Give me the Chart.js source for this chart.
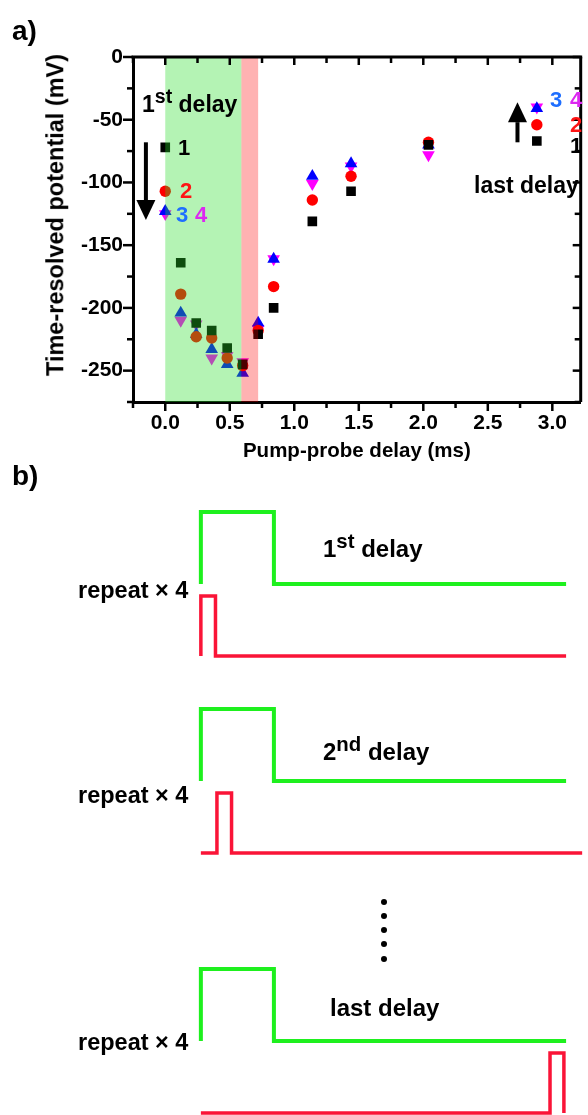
<!DOCTYPE html>
<html>
<head>
<meta charset="utf-8">
<script src="https://cdn.jsdelivr.net/npm/chart.js@4.4.1/dist/chart.umd.min.js"></script>
<style>
  html, body { margin: 0; padding: 0; background: #fff; }
  body { position: relative; width: 588px; height: 1115px; overflow: hidden;
         font-family: "Liberation Sans", Arial, sans-serif; font-weight: bold; color: #000; }
  canvas { position: absolute; left: 0; }
  .t { position: absolute; line-height: 1; white-space: nowrap; transform: translateY(-50%); }
  .t sup { font-size: 0.85em; line-height: 0; vertical-align: 0.42em; }
  .dot { position: absolute; width: 6px; height: 6px; border-radius: 50%; background: #000; left: 381px; }
  #ytitle { position: absolute; left: 56px; top: 215px; font-size: 23.5px; line-height: 1; white-space: nowrap;
            transform: translate(-50%, -50%) rotate(-90deg); }
</style>
</head>
<body>
<canvas id="delayChart" width="588" height="470" style="top:0"></canvas>
<canvas id="pulse1" width="588" height="156" style="top:506px"></canvas>
<canvas id="pulse2" width="588" height="156" style="top:703px"></canvas>
<canvas id="pulse3" width="588" height="156" style="top:963px"></canvas>

<!-- panel a texts -->
<div class="t" style="left:12px;top:31px;font-size:28px">a)</div>
<div id="ytitle">Time-resolved potential (mV)</div>
<div class="t" style="left:142px;top:104px;font-size:23px">1<sup>st</sup> delay</div>
<div class="t" style="left:178px;top:148px;font-size:22px">1</div>
<div class="t" style="left:180px;top:191px;font-size:22px;color:#ff1414">2</div>
<div class="t" style="left:176px;top:215px;font-size:22px;color:#1e6eff">3</div>
<div class="t" style="left:195px;top:215px;font-size:22px;color:#dc28f0">4</div>
<div class="t" style="left:550px;top:100px;font-size:22px;color:#1e6eff">3</div>
<div class="t" style="left:570px;top:100px;font-size:22px;color:#dc28f0">4</div>
<div class="t" style="left:570px;top:125px;font-size:22px;color:#ff1414">2</div>
<div class="t" style="left:570px;top:146px;font-size:22px">1</div>
<div class="t" style="left:474px;top:185px;font-size:23px">last delay</div>

<!-- panel b texts -->
<div class="t" style="left:12px;top:476px;font-size:28px">b)</div>
<div class="t" style="left:78px;top:591px;font-size:23.5px">repeat × 4</div>
<div class="t" style="left:78px;top:796px;font-size:23.5px">repeat × 4</div>
<div class="t" style="left:78px;top:1043px;font-size:23.5px">repeat × 4</div>
<div class="t" style="left:323px;top:549px;font-size:24px">1<sup>st</sup> delay</div>
<div class="t" style="left:323px;top:752px;font-size:24px">2<sup>nd</sup> delay</div>
<div class="t" style="left:330px;top:1008px;font-size:24px">last delay</div>
<div class="dot" style="top:899px"></div>
<div class="dot" style="top:913px"></div>
<div class="dot" style="top:927px"></div>
<div class="dot" style="top:941px"></div>
<div class="dot" style="top:956px"></div>

<script>
// pump-probe delays (ms) and potentials (mV) for the four repeats
const delayMs = [0, 0.12, 0.24, 0.36, 0.48, 0.60, 0.72, 0.84, 1.14, 1.44, 2.04, 2.88];
const run1 = [-72, -164, -212, -218, -232, -245, -221, -200, -131, -107, -70, -67];
const run2 = [-107, -189, -223, -224, -240, -246, -218, -183, -114, -95, -68, -54];
const run3 = [-123, -204, -221, -233, -245, -252, -212, -161, -95, -85, -70, -41];
const run4 = [-125, -210, -213, -240, -238, -243, -217, -161, -101, -87, -78, -40];

// shaded windows (ms)
const pumpWindow = [0, 0.59];
const probeWindow = [0.59, 0.72];

// arrows in data units: x, start, end (mV)
const arrows = [
    {x: -0.15, from: -68, to: -130},
    {x: 2.73, from: -68, to: -36}
];

// timing diagram: time in pump widths, level in arbitrary units
const pumpTime = [0, 0, 1, 1, 5];
const pumpLevel = [1.2, 2.4, 2.4, 1.2, 1.2];
const probe1Time = [0, 0, 0.2, 0.2, 5];
const probe1Level = [0, 1, 1, 0, 0];
const probe2Time = [0, 0.22, 0.22, 0.42, 0.42, 5.22];
const probe2Level = [0, 0, 1, 1, 0, 0];
const probeLastTime = [0, 4.78, 4.78, 4.97, 4.97];
const probeLastLevel = [0, 0, 1, 1, 0];

const fontFamily = '"Liberation Sans", Arial, sans-serif';

function toXY(xs, ys) {
    return xs.map((v, i) => ({x: v, y: ys[i]}));
}

function line(ctx, x0, y0, x1, y1) {
    ctx.beginPath();
    ctx.moveTo(x0, y0);
    ctx.lineTo(x1, y1);
    ctx.stroke();
}

//Bands over the points, frame, minor ticks and arrows
const framePlugin = {
    id: 'framePlugin',
    afterDatasetsDraw(chart) {
        const {ctx, chartArea: a, scales: {x}} = chart;
        ctx.save();
        [[pumpWindow, 'rgba(40, 220, 40, 0.35)'], [probeWindow, 'rgba(255, 0, 0, 0.3)']].forEach(function(b) {
            const x0 = x.getPixelForValue(b[0][0]);
            const x1 = x.getPixelForValue(b[0][1]);
            ctx.fillStyle = b[1];
            ctx.fillRect(x0, a.top, x1 - x0, a.bottom - a.top);
        });
        ctx.restore();
    },
    afterDraw(chart) {
        const {ctx, chartArea: a, scales: {x, y}} = chart;
        ctx.save();
        ctx.strokeStyle = '#000';
        ctx.lineWidth = 3;
        line(ctx, a.left - 1.5, a.top, a.right + 1.5, a.top);
        line(ctx, a.right, a.top, a.right, a.bottom);

        ctx.lineWidth = 2.5;
        for (let i = 0; ; i++) {
            const v = -0.25 + i * 0.25;
            if (v > x.max + 1e-9) break;
            const px = x.getPixelForValue(v);
            const major = i % 2 === 1;
            line(ctx, px, a.bottom, px, a.bottom + (major ? 9 : 6));
            line(ctx, px, a.top, px, a.top + (major ? 8 : 6));
        }
        for (let i = 0; ; i++) {
            const v = -25 * i;
            if (v < y.min - 1e-9) break;
            const py = y.getPixelForValue(v);
            const major = i % 2 === 0;
            line(ctx, a.left - (major ? 10 : 6), py, a.left, py);
            line(ctx, a.right - (major ? 8 : 6), py, a.right, py);
        }

        ctx.fillStyle = '#000';
        arrows.forEach(function(ar) {
            const px = x.getPixelForValue(ar.x);
            const p0 = y.getPixelForValue(ar.from);
            const p1 = y.getPixelForValue(ar.to);
            const dir = Math.sign(p1 - p0);
            const headLen = 20;
            ctx.lineWidth = 4;
            line(ctx, px, p0, px, p1 - dir * headLen);
            ctx.beginPath();
            ctx.moveTo(px - 9.5, p1 - dir * headLen);
            ctx.lineTo(px + 9.5, p1 - dir * headLen);
            ctx.lineTo(px, p1);
            ctx.closePath();
            ctx.fill();
        });
        ctx.restore();
    }
};

const delayChart = new Chart(
    document.getElementById('delayChart'),
    {
        type: 'scatter',
        data: {
            datasets: [{
                label: '1',
                data: toXY(delayMs, run1),
                pointStyle: 'rect',
                pointRadius: 6.8,
                backgroundColor: '#000000',
            }, {
                label: '2',
                data: toXY(delayMs, run2),
                pointStyle: 'circle',
                pointRadius: 5.7,
                backgroundColor: '#ff0000',
            }, {
                label: '3',
                data: toXY(delayMs, run3),
                pointStyle: 'triangle',
                pointRadius: 7.3,
                backgroundColor: '#0000ff',
            }, {
                label: '4',
                data: toXY(delayMs, run4),
                pointStyle: 'triangle',
                rotation: 180,
                pointRadius: 7.3,
                backgroundColor: '#ff00ff',
            }]
        },
        options: {
            responsive: false,
            animation: false,
            devicePixelRatio: 1,
            events: [],
            elements: {
                point: {borderWidth: 0}
            },
            layout: {
                padding: {top: 57, right: 1, left: 0, bottom: 0}
            },
            plugins: {
                legend: {display: false},
                tooltip: {enabled: false}
            },
            scales: {
                x: {
                    type: 'linear',
                    min: -0.25,
                    max: 3.22,
                    grid: {display: false, drawTicks: false},
                    border: {display: true, color: '#000', width: 3},
                    ticks: {
                        stepSize: 0.5,
                        includeBounds: false,
                        padding: 9,
                        color: '#000',
                        font: {family: fontFamily, size: 21, weight: 'bold'},
                        callback: v => v.toFixed(1)
                    },
                    title: {
                        display: true,
                        text: 'Pump-probe delay (ms)',
                        color: '#000',
                        font: {family: fontFamily, size: 20.5, weight: 'bold'},
                        padding: {top: 0, bottom: 6}
                    },
                    afterFit: s => { s.height = 68; }
                },
                y: {
                    min: -275,
                    max: 0,
                    grid: {display: false, drawTicks: false},
                    border: {display: true, color: '#000', width: 3},
                    ticks: {
                        stepSize: 50,
                        includeBounds: false,
                        padding: 10,
                        color: '#000',
                        font: {family: fontFamily, size: 21, weight: 'bold'},
                        callback: v => String(v)
                    },
                    afterFit: s => { s.width = 133; }
                }
            }
        },
        plugins: [framePlugin]
    }
);

//Timing diagrams, one small chart per delay
function pulseChart(id, probeTime, probeLevel) {
    return new Chart(document.getElementById(id), {
        type: 'scatter',
        data: {
            datasets: [{
                label: 'pump',
                data: toXY(pumpTime, pumpLevel),
                showLine: true,
                borderColor: 'rgb(30, 240, 30)',
                borderWidth: 4,
                pointRadius: 0
            }, {
                label: 'probe',
                data: toXY(probeTime, probeLevel),
                showLine: true,
                borderColor: 'rgb(250, 20, 55)',
                borderWidth: 3.5,
                pointRadius: 0
            }]
        },
        options: {
            responsive: false,
            animation: false,
            devicePixelRatio: 1,
            events: [],
            elements: {line: {tension: 0, borderJoinStyle: 'miter', borderCapStyle: 'butt'}},
            layout: {padding: 0, autoPadding: false},
            plugins: {legend: {display: false}, tooltip: {enabled: false}},
            scales: {
                x: {type: 'linear', display: false, min: -2.75, max: 5.3},
                y: {display: false, min: -0.1, max: 2.5}
            }
        }
    });
}

pulseChart('pulse1', probe1Time, probe1Level);
pulseChart('pulse2', probe2Time, probe2Level);
pulseChart('pulse3', probeLastTime, probeLastLevel);
</script>
</body>
</html>
